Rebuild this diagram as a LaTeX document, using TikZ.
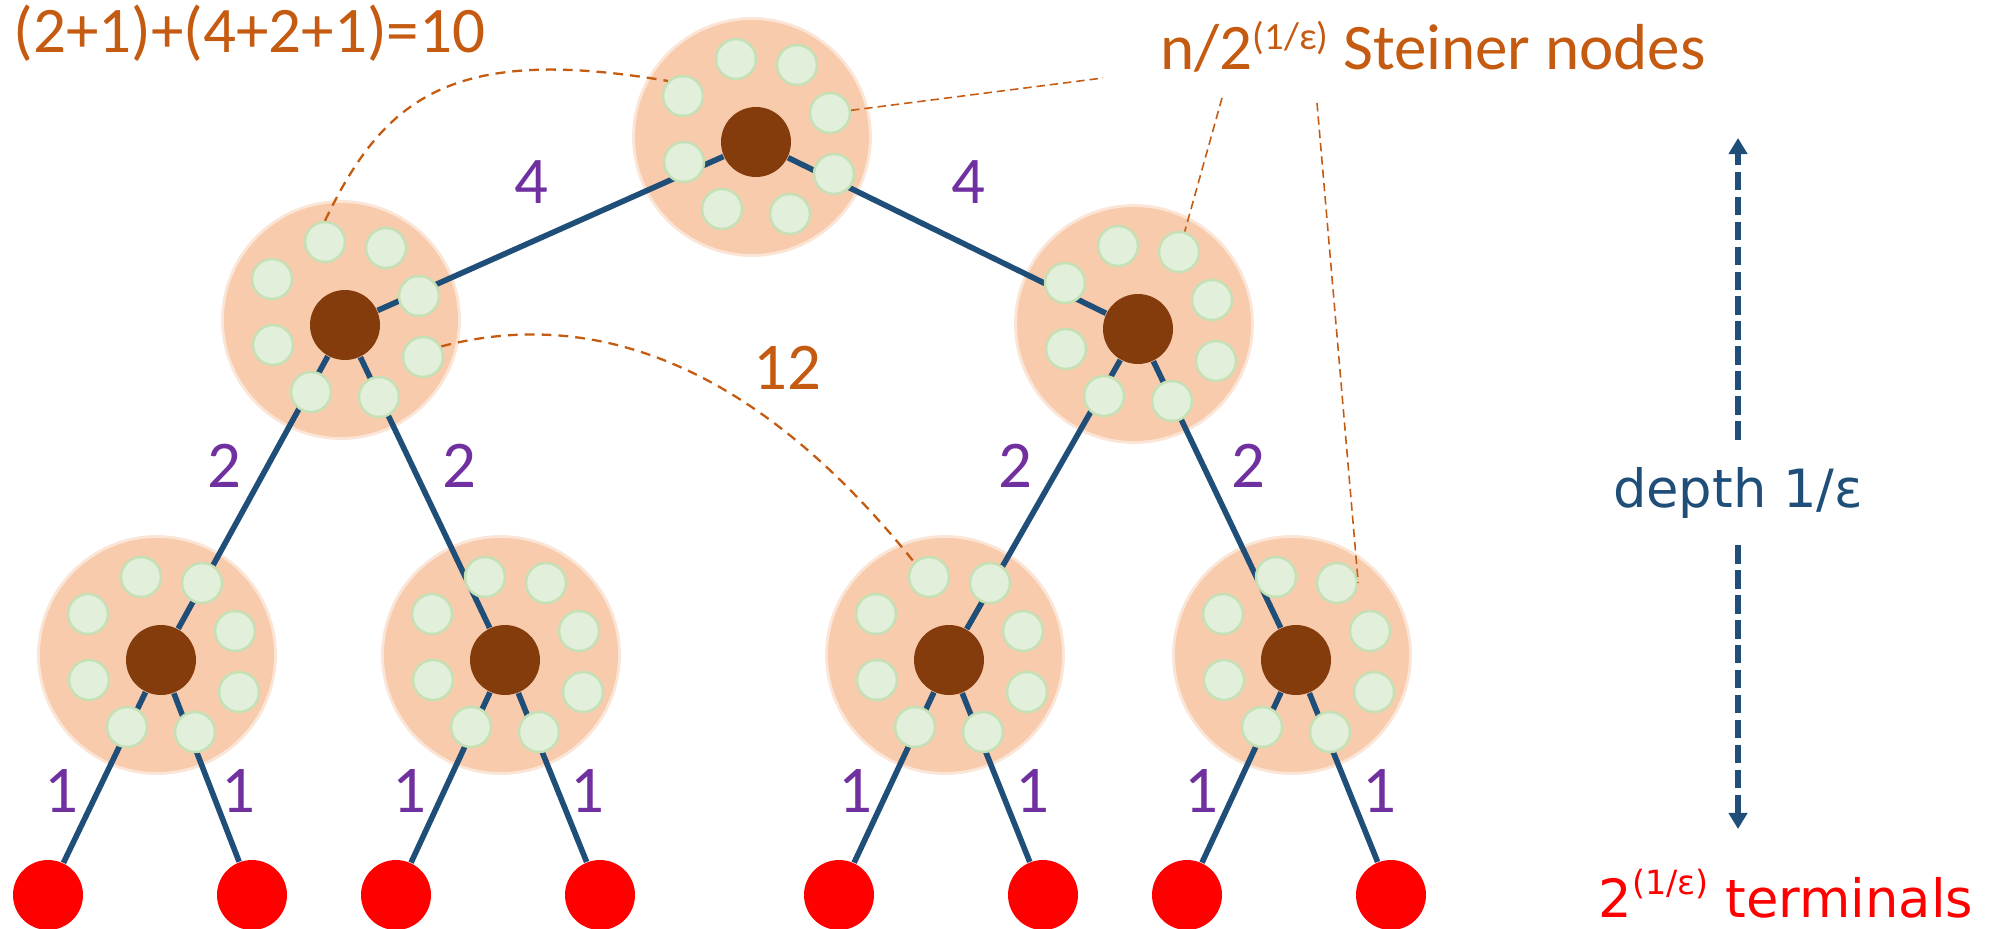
\documentclass[tikz,border=0pt]{standalone}
\usepackage{fontspec}
\setmainfont{Carlito}
\newfontfamily\widefont{DejaVu Sans}
\usetikzlibrary{arrows.meta,calc,positioning}

\definecolor{discfill}{HTML}{F8CBAD}
\definecolor{discrim}{HTML}{FBE5D6}
\definecolor{hubbrown}{HTML}{843C0C}
\definecolor{steinfill}{HTML}{E2EFDA}
\definecolor{steinrim}{HTML}{C5E0B4}
\definecolor{edgeblue}{HTML}{1F4E79}
\definecolor{weightpurple}{HTML}{7030A0}
\definecolor{noteorange}{HTML}{C55A11}

\tikzset{
  disc/.style={circle, fill=discfill, draw=discrim, line width=0.8pt, minimum size=2.37cm, inner sep=0pt},
  hub/.style={circle, fill=hubbrown, minimum size=0.7cm, inner sep=0pt},
  steiner/.style={circle, fill=steinfill, draw=steinrim, line width=0.7pt, minimum size=0.4cm, inner sep=0pt},
  terminal/.style={circle, fill=red, minimum size=0.7cm, inner sep=0pt},
  tree/.style={draw=edgeblue, line width=1.6pt},
  weight/.style={text=weightpurple, font=\fontsize{19}{22}\selectfont, anchor=base, inner sep=0pt},
  note/.style={text=noteorange, font=\fontsize{18.5}{22}\selectfont, inner sep=0pt},
  bigpointer/.style={draw=noteorange, line width=0.65pt, dash pattern=on 2.8pt off 2pt},
  pointer/.style={draw=noteorange, line width=0.45pt, dash pattern=on 2.4pt off 1.4pt},
  depthline/.style={draw=edgeblue, line width=1.7pt, dash pattern=on 5.3pt off 1.8pt,
    -{Triangle[width=5.2pt,length=4.6pt]}},
}

% a disc with its hub, and the eight Steiner nodes round it
\newcommand{\drawcluster}[3]{%
  \node[disc] (#1) at (#2,#3) {};
  \node[hub] (#1h) at ($(#1)+(4,5)$) {};}
\newcommand{\drawring}[1]{%
  \foreach \dx/\dy [count=\k] in {-16/-78,45/-72,-69/-41,78/-24,-68/25,82/37,-30/72,38/77}
    {\node[steiner] (#1-\k) at ($(#1)+(\dx,\dy)$) {};}}

\begin{document}
\begin{tikzpicture}[x=0.1mm, y=-0.1mm]
  \useasboundingbox (0,0) rectangle (2007,929);

  % Discs of the tree
  \drawcluster{root}{752}{137}
  \drawcluster{lft}{341}{320}
  \drawcluster{rgt}{1134}{324}
  \drawcluster{ll}{157}{655}
  \drawcluster{lr}{501}{655}
  \drawcluster{rl}{945}{655}
  \drawcluster{rr}{1292}{655}

  % Terminals
  \foreach \x [count=\i] in {48,252,396,600,839,1043,1187,1391}
    \node[terminal] (t\i) at (\x,895) {};

  % Tree edges
  \draw[tree]
    (rooth) -- (lfth) (rooth) -- (rgth)
    (lfth) -- (llh) (lfth) -- (lrh)
    (rgth) -- (rlh) (rgth) -- (rrh)
    (llh) -- (t1) (llh) -- (t2)
    (lrh) -- (t3) (lrh) -- (t4)
    (rlh) -- (t5) (rlh) -- (t6)
    (rrh) -- (t7) (rrh) -- (t8);

  \foreach \c in {root,lft,rgt,ll,lr,rl,rr}
    {\drawring{\c}}

  % Edge weights
  \node[weight] (w4a) at (531,203) {4};
  \node[weight] (w4b) at (968,203) {4};
  \foreach \x [count=\i] in {224,459,1015,1248}
    \node[weight] (w2-\i) at (\x,487) {2};
  \foreach \x [count=\i] in {61,238,409,587,855,1032,1201,1379}
    \node[weight] (w1-\i) at (\x,812) {1};

  % Notes and their pointers
  \node[note, anchor=base west] (sum) at (13,53) {(2+1)+(4+2+1)=10};
  \node[note, anchor=base west] (count) at (1160,70)
    {n/2\raisebox{5.7pt}{\fontsize{11}{13}\selectfont(1/ε)} Steiner nodes};
  \node[note, font=\fontsize{19}{22}\selectfont, anchor=base] (twelve) at (787,389) {12};

  \coordinate (hintA) at (1103,78);
  \coordinate (hintB) at (1222,98);
  \coordinate (hintC) at (1317,103);
  \draw[pointer] (root-4) -- (hintA);
  \draw[pointer] (hintB) -- (rgt-2);
  \draw[pointer] (hintC) -- (rr-2.east);

  \draw[bigpointer] (lft-1.north) .. controls (385,95) and (455,45) .. (root-3.north west);
  \draw[bigpointer] (lft-6.30) .. controls (600,305) and (760,370) .. (rl-1.north west);

  % Depth marker
  \node[text=edgeblue, font=\widefont\fontsize{15}{18}\selectfont, anchor=base,
        inner xsep=0pt, inner ysep=7.5pt] (depth) at (1738,507) {depth 1/ε};
  \coordinate (dtop) at (1738,138);
  \coordinate (dbot) at (1738,829);
  \draw[depthline] (depth) -- (dtop);
  \draw[depthline] (depth) -- (dbot);

  \node[text=red, font=\widefont\fontsize{15}{18}\selectfont, anchor=base west, inner sep=0pt]
    (terms) at (1598,917) {2\raisebox{6.4pt}{\fontsize{9.5}{11}\selectfont(1/ε)} terminals};

\end{tikzpicture}
\end{document}
